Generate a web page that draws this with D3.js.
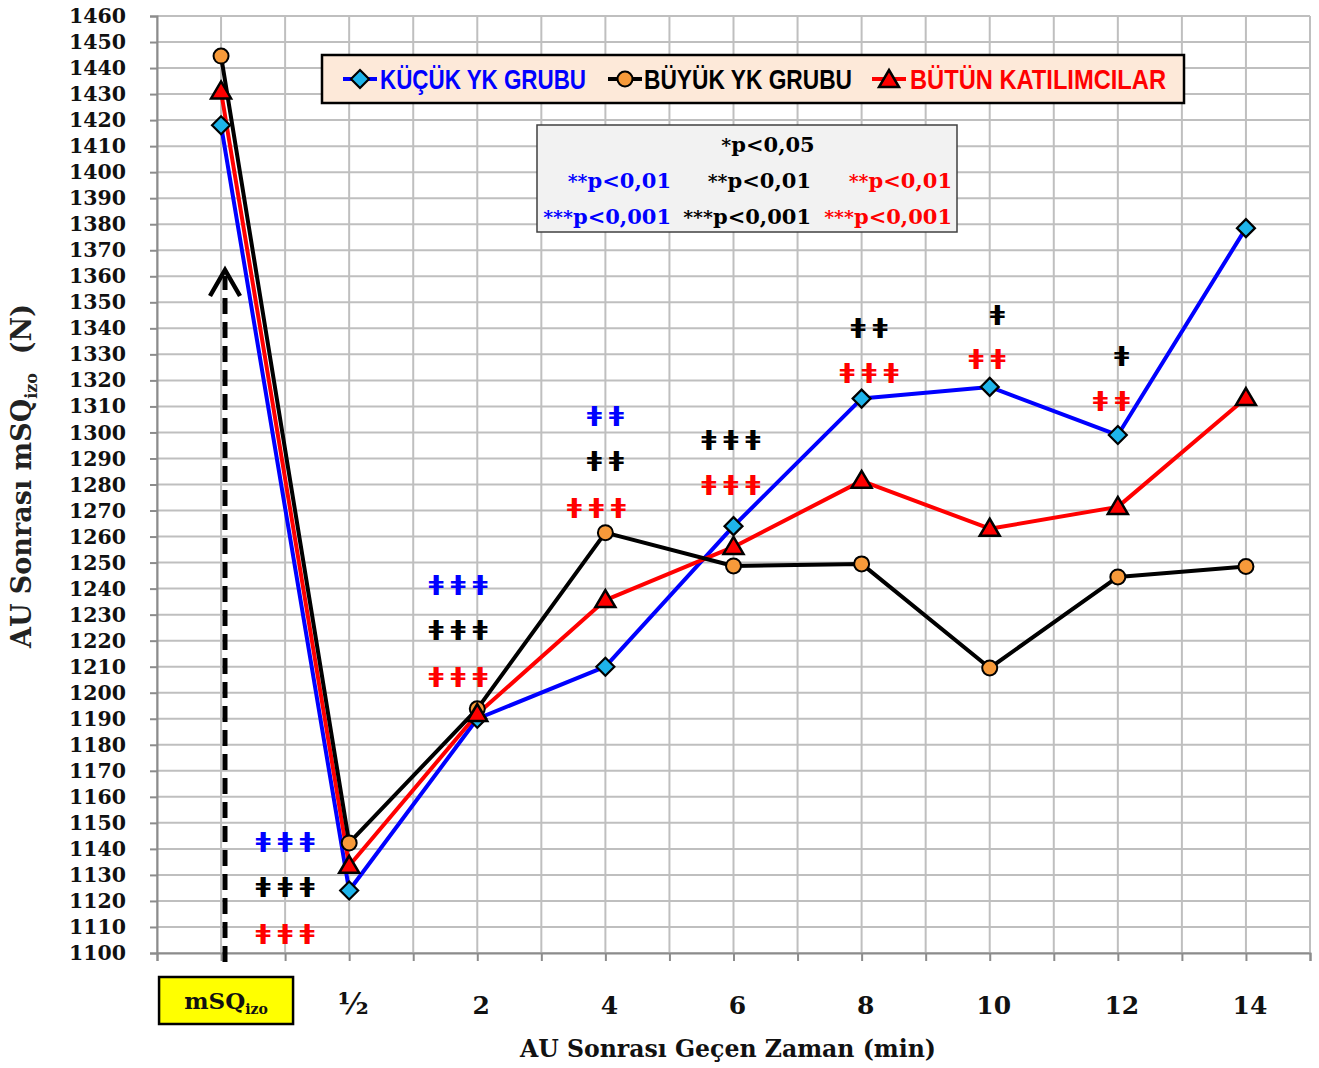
<!DOCTYPE html>
<html><head><meta charset="utf-8">
<script src="https://cdn.jsdelivr.net/npm/d3@7"></script>
<style>
body{margin:0;background:#fff;}
svg{display:block;}
</style></head>
<body>
<svg id="chart" width="1319" height="1068"></svg>
<script>
// ---- data ----
const categories = ["mSQizo","½","2","4","6","8","10","12","14"];
const kucuk = [1418,1124,1190,1210,1264,1313,1317.5,1299,1378.5];
const buyuk = [1444.6,1142.3,1193.8,1261.5,1248.7,1249.5,1209.5,1244.5,1248.5];
const butun = [1431,1133.5,1191.8,1235.6,1256,1281.4,1263,1271.4,1313.2];
const seriesNames = ["KÜÇÜK YK GRUBU","BÜYÜK YK GRUBU","BÜTÜN KATILIMCILAR"];
const seriesColors = ["#0000ff","#000000","#ff0000"];
const yTicks = d3.range(1100,1461,10);
// significance annotations: x index, y value, star count, series index
const sigX = [0.5,0.5,0.5, 1.85,1.85,1.85, 3.0,3.0,2.93, 3.98,3.98, 5.06,5.06, 6.06,5.98, 7.03,6.95];
const sigY = [1143.4,1126.2,1108.1, 1242.2,1224.9,1206.8, 1307.1,1289.8,1271.8, 1297.9,1280.6, 1340.9,1323.6, 1345.9,1329, 1330.1,1312.9];
const sigN = [3,3,3, 3,3,3, 2,2,3, 3,3, 2,3, 1,2, 1,2];
const sigS = [0,1,2, 0,1,2, 0,1,2, 1,2, 1,2, 1,2, 1,2];
const pRows = [["","*p<0,05",""],["**p<0,01","**p<0,01","**p<0,01"],["***p<0,001","***p<0,001","***p<0,001"]];

const svg = d3.select("#chart");
const L=157,R=1310,T=16,B=953;
const x = d3.scaleLinear().domain([-0.5,8.5]).range([L,R]);
const y = d3.scaleLinear().domain([1100,1460]).range([B,T]);
const serif = "'DejaVu Serif', serif";
const narrow = "'Liberation Sans Narrow','Arial Narrow',sans-serif";

// grid
const g = svg.append("g");
g.selectAll("line.h").data(yTicks).join("line")
  .attr("x1",L).attr("x2",R).attr("y1",d=>y(d)).attr("y2",d=>y(d))
  .attr("stroke","#bfbfbf").attr("stroke-width",2);
g.selectAll("line.v").data(d3.range(-0.5,8.51,0.5)).join("line")
  .attr("x1",d=>x(d)).attr("x2",d=>x(d)).attr("y1",T).attr("y2",B)
  .attr("stroke","#bfbfbf").attr("stroke-width",2);

// y axis
const ya = svg.append("g").attr("transform",`translate(${L},0)`)
  .call(d3.axisLeft(y).tickValues(yTicks).tickSize(7).tickPadding(24).tickFormat(d3.format("d")));
ya.select(".domain").attr("stroke","#8c8c8c").attr("stroke-width",2);
ya.selectAll(".tick line").attr("stroke","#8c8c8c").attr("stroke-width",2);
ya.selectAll(".tick text").attr("font-family",serif).attr("font-weight","bold").attr("font-size",20.5).attr("fill","#111");

// x axis ticks
const xa = svg.append("g").attr("transform",`translate(0,${B})`)
  .call(d3.axisBottom(x).tickValues(d3.range(-0.5,8.51,0.5)).tickSize(8).tickFormat(""));
xa.select(".domain").attr("stroke","#8c8c8c").attr("stroke-width",2);
xa.selectAll(".tick line").attr("stroke","#8c8c8c").attr("stroke-width",2);

// x labels
categories.forEach((c,i)=>{
  if(i===0){
    svg.append("rect").attr("x",x(i)-62).attr("y",977).attr("width",134).attr("height",47)
      .attr("fill","#ffff00").attr("stroke","#000").attr("stroke-width",2.5);
    const t = svg.append("text").attr("x",x(i)+5).attr("y",1009).attr("text-anchor","middle")
      .attr("font-family",serif).attr("font-weight","bold").attr("font-size",23).attr("fill","#111");
    t.append("tspan").text("mSQ");
    t.append("tspan").attr("font-size",14).attr("dy",5).text("izo");
  } else {
    svg.append("text").attr("x",x(i)+4).attr("y",1014).attr("text-anchor","middle")
      .attr("font-family",serif).attr("font-weight","bold").attr("font-size",i===1?30:25).attr("fill","#111")
      .text(c);
  }
});

// axis titles
svg.append("text").attr("x",728).attr("y",1057).attr("text-anchor","middle")
  .attr("font-family",serif).attr("font-weight","bold").attr("font-size",25).attr("fill","#111")
  .attr("textLength",416).attr("lengthAdjust","spacingAndGlyphs")
  .text("AU Sonrası Geçen Zaman (min)");
const yt = svg.append("text").attr("transform","translate(31,476) rotate(-90)").attr("text-anchor","middle")
  .attr("font-family",serif).attr("font-weight","bold").attr("font-size",27).attr("fill","#222");
yt.append("tspan").text("AU Sonrası mSQ");
yt.append("tspan").attr("font-size",16).attr("dy",6).text("izo");
yt.append("tspan").attr("dy",-6).text("\u00a0\u00a0(N)");

// dashed arrow
svg.append("line").attr("x1",225).attr("x2",225).attr("y1",962).attr("y2",276)
  .attr("stroke","#000").attr("stroke-width",5).attr("stroke-dasharray","16,8");
svg.append("path").attr("d","M210,296 L225,270 L240,296").attr("fill","none")
  .attr("stroke","#000").attr("stroke-width",4.5).attr("stroke-linejoin","miter");

// lines
const allSeries = [kucuk,buyuk,butun];
const line = d3.line().x((d,i)=>x(i)).y(d=>y(d));
[0,2,1].forEach(s=>{
  svg.append("path").datum(allSeries[s]).attr("d",line).attr("fill","none")
    .attr("stroke",seriesColors[s]).attr("stroke-width",4).attr("stroke-linejoin","round");
});

// markers
function diamond(sel,cx,cy){
  sel.append("path").attr("d",`M${cx},${cy-9} L${cx+9},${cy} L${cx},${cy+9} L${cx-9},${cy} Z`)
    .attr("fill","#1eb4ea").attr("stroke","#000").attr("stroke-width",2.2);
}
function circle(sel,cx,cy){
  sel.append("circle").attr("cx",cx).attr("cy",cy).attr("r",7.5)
    .attr("fill","#f79a3a").attr("stroke","#000").attr("stroke-width",2);
}
function tri(sel,cx,cy){
  sel.append("path").attr("d",`M${cx},${cy-10} L${cx+10},${cy+7} L${cx-10},${cy+7} Z`)
    .attr("fill","#ff0000").attr("stroke","#000").attr("stroke-width",2.5).attr("stroke-linejoin","miter");
}
const mk = svg.append("g");
kucuk.forEach((v,i)=>diamond(mk,x(i),y(v)));
buyuk.forEach((v,i)=>circle(mk,x(i),y(v)));
butun.forEach((v,i)=>tri(mk,x(i),y(v)));

// significance stars
sigX.forEach((sx,i)=>{
  const n = sigN[i], cx = x(sx), step = 22;
  for(let k=0;k<n;k++){
    svg.append("text")
      .attr("transform",`translate(${cx+(k-(n-1)/2)*step},${y(sigY[i])+8}) scale(1.3,1)`)
      .attr("text-anchor","middle")
      .attr("font-family","'DejaVu Sans',sans-serif").attr("font-weight","bold").attr("font-size",21)
      .attr("fill",seriesColors[sigS[i]]).text("ǂ");
  }
});

// legend
const lg = svg.append("g");
lg.append("rect").attr("x",322).attr("y",55).attr("width",862).attr("height",48)
  .attr("fill","#fde9d9").attr("stroke","#000").attr("stroke-width",2.5);
const legX = [343,608,872], legTX=[380,644,910], legW=[206,208,256];
seriesNames.forEach((n,s)=>{
  lg.append("line").attr("x1",legX[s]).attr("x2",legX[s]+34).attr("y1",79).attr("y2",79)
    .attr("stroke",seriesColors[s]).attr("stroke-width",4);
  const cx=legX[s]+17;
  if(s===0) diamond(lg,cx,79); else if(s===1) circle(lg,cx,79); else tri(lg,cx,80);
  lg.append("text").attr("x",legTX[s]).attr("y",89).attr("font-family",narrow).attr("font-size",28)
    .attr("font-weight","bold")
    .attr("fill",seriesColors[s]).attr("textLength",legW[s]).attr("lengthAdjust","spacingAndGlyphs").text(n);
});

// p-value box
const pb = svg.append("g");
pb.append("rect").attr("x",537).attr("y",125).attr("width",420).attr("height",107)
  .attr("fill","#f2f2f2").attr("stroke","#404040").attr("stroke-width",1.5);
const colR=[671,811,952];
pRows.forEach((row,r)=>{
  row.forEach((t,c)=>{
    if(!t) return;
    const tx = pb.append("text").attr("y",152+r*36).attr("font-family",serif).attr("font-weight","bold")
      .attr("font-size",21).attr("fill",seriesColors[c]);
    if(r===0) tx.attr("x",768).attr("text-anchor","middle"); else tx.attr("x",colR[c]).attr("text-anchor","end");
    const m = t.match(/^(\*+)(.*)$/);
    tx.append("tspan").attr("font-size",19).text(m[1]);
    tx.append("tspan").text(m[2]);
  });
});
</script>
</body></html>
